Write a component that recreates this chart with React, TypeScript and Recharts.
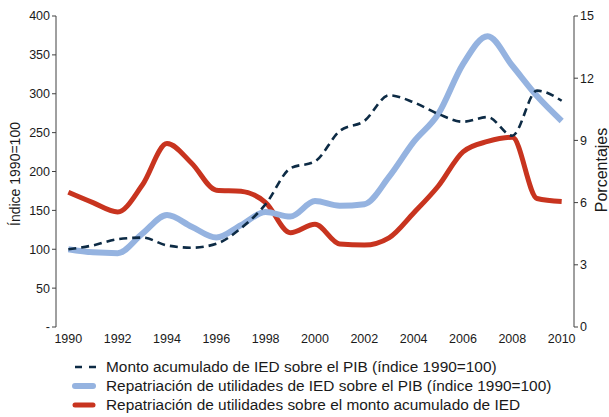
import { Label, Line, LineChart, XAxis, YAxis } from "recharts";

// Values (left axis: index 1990=100, right axis: percent)
const years = [
  1990, 1991, 1992, 1993, 1994, 1995, 1996, 1997, 1998, 1999, 2000, 2001, 2002, 2003, 2004,
  2005, 2006, 2007, 2008, 2009, 2010,
];
const montoIED = [
  100, 105, 113, 115, 105, 102, 107, 127, 158, 204, 213, 252, 265, 298, 289, 274, 264, 270,
  246, 304, 291,
];
const repatPIB = [
  100, 96, 95, 120, 144, 129, 115, 131, 148, 142, 162, 156, 158, 193, 238, 274, 338, 374, 336,
  297, 265,
];
const repatMonto = [
  6.5, 6.0, 5.55, 6.85, 8.85, 7.9, 6.6, 6.55, 6.0, 4.55, 4.95, 4.0, 3.95, 4.3, 5.5, 6.8, 8.45,
  8.95, 9.15, 6.2, 6.05,
];
const yearTicks = [1990, 1992, 1994, 1996, 1998, 2000, 2002, 2004, 2006, 2008, 2010];
const leftTicks = [0, 50, 100, 150, 200, 250, 300, 350, 400];
const rightTicks = [0, 3, 6, 9, 12, 15];
const seriesNames = [
  "Monto acumulado de IED sobre el PIB (índice 1990=100)",
  "Repatriación de utilidades de IED sobre el PIB (índice 1990=100)",
  "Repatriación de utilidades sobre el monto acumulado de IED",
];

const NAVY = "#0d2b45";
const BLUE = "#95b3e0";
const RED = "#c8341f";
const AXIS = "#404040";
const FONT = "'Liberation Sans', Arial, sans-serif";

// tick marks sit on the year band edges, labels in the band centres (Excel style)
const bandEdges = [...years.map((y) => y - 0.5), years[years.length - 1] + 0.5];

const data = years.map((year, i) => ({
  year,
  monto: montoIED[i],
  pib: repatPIB[i],
  pct: repatMonto[i],
}));

const tickStyle = { fontSize: 12.5, fill: "#1a1a1a", fontFamily: FONT };

function LegendIcon({ kind }: { kind: number }) {
  if (kind === 0) {
    return (
      <svg width={24} height={8}>
        <line x1={3} y1={4} x2={24} y2={4} stroke={NAVY} strokeWidth={2.6} strokeDasharray="7 7" />
      </svg>
    );
  }
  return (
    <svg width={24} height={8}>
      <line
        x1={3}
        y1={4}
        x2={21}
        y2={4}
        stroke={kind === 1 ? BLUE : RED}
        strokeWidth={kind === 1 ? 6 : 5}
        strokeLinecap="round"
      />
    </svg>
  );
}

export default function App() {
  return (
    <div
      style={{
        position: "absolute",
        left: 0,
        top: 0,
        width: 609,
        height: 417,
        background: "#fff",
        fontFamily: FONT,
      }}
    >
      <LineChart width={609} height={352} data={data} margin={{ top: 16, right: 0, bottom: 0, left: 0 }}>
        <XAxis
          xAxisId="edges"
          dataKey="year"
          type="number"
          domain={[1989.5, 2010.5]}
          ticks={bandEdges}
          tickFormatter={() => ""}
          height={0}
          tickSize={4}
          stroke={AXIS}
          interval={0}
        />
        <XAxis
          xAxisId="labels"
          dataKey="year"
          type="number"
          domain={[1989.5, 2010.5]}
          ticks={yearTicks}
          axisLine={false}
          tickLine={false}
          tickSize={5}
          tickMargin={2}
          height={25}
          tick={tickStyle}
          interval={0}
        />
        <YAxis
          yAxisId="left"
          domain={[0, 400]}
          ticks={leftTicks}
          width={56}
          tickSize={4}
          stroke={AXIS}
          tick={tickStyle}
          tickFormatter={(v) => (v === 0 ? "-" : String(v))}
          interval={0}
        >
          <Label
            content={() => (
              <text
                x={15}
                y={174}
                transform="rotate(-90 15 174)"
                textAnchor="middle"
                dominantBaseline="central"
                style={{ fontSize: 14, fill: "#1a1a1a", fontFamily: FONT }}
              >
                Índice 1990=100
              </text>
            )}
          />
        </YAxis>
        <YAxis
          yAxisId="right"
          orientation="right"
          domain={[0, 15]}
          ticks={rightTicks}
          width={35}
          tickSize={4}
          stroke={AXIS}
          tick={tickStyle}
          interval={0}
        >
          <Label
            content={() => (
              <text
                x={601}
                y={170}
                transform="rotate(-90 601 170)"
                textAnchor="middle"
                dominantBaseline="central"
                style={{ fontSize: 16, fill: "#1a1a1a", fontFamily: FONT }}
              >
                Porcentajes
              </text>
            )}
          />
        </YAxis>
        <Line
          xAxisId="labels"
          yAxisId="right"
          type="monotone"
          dataKey="pct"
          stroke={RED}
          strokeWidth={5}
          dot={false}
          isAnimationActive={false}
        />
        <Line
          xAxisId="labels"
          yAxisId="left"
          type="monotone"
          dataKey="pib"
          stroke={BLUE}
          strokeWidth={6}
          dot={false}
          isAnimationActive={false}
        />
        <Line
          xAxisId="labels"
          yAxisId="left"
          type="monotone"
          dataKey="monto"
          stroke={NAVY}
          strokeWidth={2.6}
          strokeDasharray="8 5"
          dot={false}
          isAnimationActive={false}
        />
      </LineChart>
      <div style={{ position: "absolute", left: 72, top: 357, fontSize: 15.4, color: "#1a1a1a" }}>
        {seriesNames.map((name, i) => (
          <div key={name} style={{ display: "flex", alignItems: "center", height: 19, whiteSpace: "nowrap" }}>
            <LegendIcon kind={i} />
            <span style={{ marginLeft: 10 }}>{name}</span>
          </div>
        ))}
      </div>
    </div>
  );
}
